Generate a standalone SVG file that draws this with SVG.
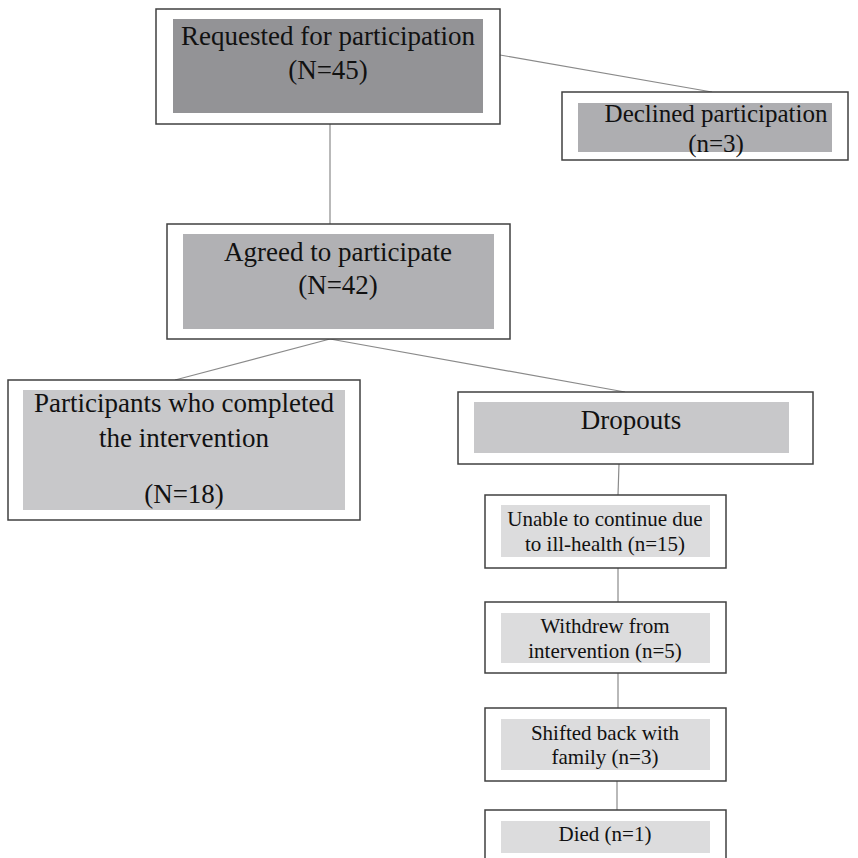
<svg xmlns="http://www.w3.org/2000/svg" width="858" height="858" viewBox="0 0 858 858">
<style>
.outer{fill:#fff;stroke:#404040;stroke-width:1.5}
.t{font-family:"Liberation Serif","Times New Roman",serif;fill:#111;text-anchor:middle}
.big{font-size:27px}
.mid{font-size:25px}
.sm{font-size:21px}
.con line{stroke:#8a8a8a;stroke-width:1.2}
</style>
<rect width="858" height="858" fill="#fff"/>
<g class="con">
<line x1="330" y1="124" x2="330" y2="224"/>
<line x1="500" y1="55" x2="712" y2="92"/>
<line x1="330" y1="339" x2="175" y2="380"/>
<line x1="330" y1="339" x2="625" y2="392"/>
<line x1="619" y1="464" x2="618" y2="495"/>
<line x1="618" y1="568" x2="618" y2="602"/>
<line x1="618" y1="673" x2="618" y2="708"/>
<line x1="617" y1="781" x2="617" y2="810"/>
</g>
<g id="requested">
<rect class="outer" x="156" y="9" width="344" height="115"/>
<rect x="173" y="19" width="310" height="94" fill="#939396"/>
<text class="t big" x="328" y="45">Requested for participation</text>
<text class="t big" x="328" y="79">(N=45)</text>
</g>
<g id="declined">
<rect class="outer" x="562" y="92" width="286" height="68"/>
<rect x="578" y="103" width="254" height="49" fill="#aeaeb1"/>
<text class="t mid" x="716" y="122">Declined participation</text>
<text class="t mid" x="716" y="152">(n=3)</text>
</g>
<g id="agreed">
<rect class="outer" x="167" y="224" width="343" height="115"/>
<rect x="183" y="234" width="311" height="95" fill="#b1b1b4"/>
<text class="t big" x="338" y="261">Agreed to participate</text>
<text class="t big" x="338" y="294">(N=42)</text>
</g>
<g id="completed">
<rect class="outer" x="8" y="380" width="352" height="140"/>
<rect x="23" y="390" width="322" height="120" fill="#c8c8ca"/>
<text class="t big" x="184" y="412">Participants who completed</text>
<text class="t big" x="184" y="447">the intervention</text>
<text class="t big" x="184" y="503">(N=18)</text>
</g>
<g id="dropouts">
<rect class="outer" x="458" y="392" width="355" height="72"/>
<rect x="474" y="402" width="315" height="51" fill="#c8c8ca"/>
<text class="t big" x="631" y="429">Dropouts</text>
</g>
<g id="illhealth">
<rect class="outer" x="485" y="495" width="241" height="73"/>
<rect x="501" y="505" width="209" height="52" fill="#dcdcdd"/>
<text class="t sm" x="605" y="526">Unable to continue due</text>
<text class="t sm" x="605" y="551">to ill-health (n=15)</text>
</g>
<g id="withdrew">
<rect class="outer" x="485" y="602" width="241" height="71"/>
<rect x="501" y="613" width="209" height="50" fill="#dcdcdd"/>
<text class="t sm" x="605" y="633">Withdrew from</text>
<text class="t sm" x="605" y="658">intervention (n=5)</text>
</g>
<g id="shifted">
<rect class="outer" x="485" y="708" width="241" height="73"/>
<rect x="501" y="719" width="209" height="51" fill="#dcdcdd"/>
<text class="t sm" x="605" y="740">Shifted back with</text>
<text class="t sm" x="605" y="764">family (n=3)</text>
</g>
<g id="died">
<rect class="outer" x="485" y="810" width="241" height="60"/>
<rect x="501" y="821" width="209" height="32" fill="#dcdcdd"/>
<text class="t sm" x="605" y="841">Died (n=1)</text>
</g>
</svg>
